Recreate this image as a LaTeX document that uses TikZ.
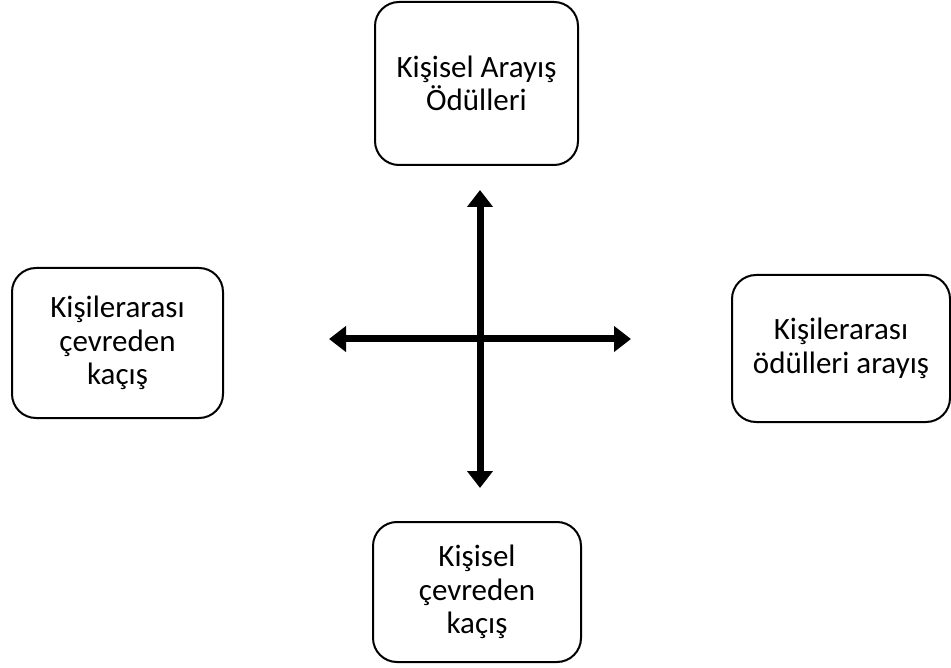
\documentclass[tikz,border=0pt]{standalone}
\usepackage{fontspec}
\setmainfont{Carlito}
\usepackage{tikz}
\usetikzlibrary{arrows.meta}

\begin{document}
\begin{tikzpicture}[x=1pt,y=-1pt,
	kutu/.style={draw,line width=2pt,rounded corners=24pt,align=center,inner sep=0pt,
		font=\fontsize{31}{33.5}\selectfont},
	ok/.style={line width=7pt,{Triangle[width=25pt,length=17pt]}-{Triangle[width=25pt,length=17pt]}}]
\useasboundingbox (0,0) rectangle (951,668);
\node [kutu,minimum width=203pt,minimum height=163pt] (ust) at (476.5,83.5) {Kişisel Arayış\\Ödülleri};
\node [kutu,minimum width=211pt,minimum height=150pt] (sol) at (117.5,343) {Kişilerarası\\çevreden\\kaçış};
\node [kutu,minimum width=218pt,minimum height=147pt] (sag) at (841,348.5) {Kişilerarası\\ödülleri arayış};
\node [kutu,minimum width=208pt,minimum height=140pt] (alt) at (477,592) {Kişisel\\çevreden\\kaçış};
\coordinate (u) at (480,190);
\coordinate (a) at (480,488);
\coordinate (l) at (329,339);
\coordinate (r) at (631,339);
\draw [ok] (u) -- (a);
\draw [ok] (l) -- (r);
\end{tikzpicture}
\end{document}
